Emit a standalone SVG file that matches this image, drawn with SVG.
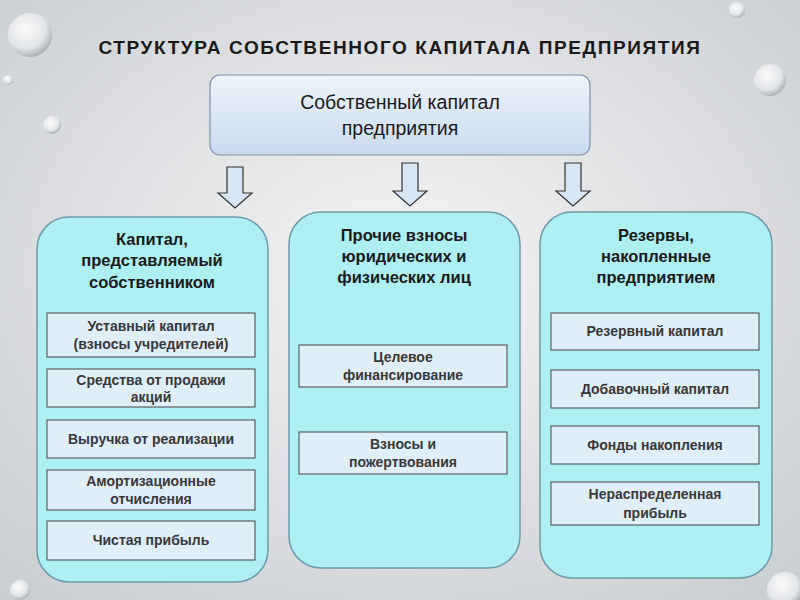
<svg xmlns="http://www.w3.org/2000/svg" width="800" height="600" viewBox="0 0 800 600">
<defs>
<radialGradient id="bg" cx="50%" cy="45%" r="75%"><stop offset="0" stop-color="#f4f5f6"/><stop offset="1" stop-color="#c9ccd0"/></radialGradient>
<linearGradient id="top" x1="0" y1="0" x2="0" y2="1"><stop offset="0" stop-color="#eef4fb"/><stop offset="1" stop-color="#c9daee"/></linearGradient>
<radialGradient id="drop" cx="40%" cy="35%" r="65%"><stop offset="0" stop-color="#ffffff"/><stop offset="0.7" stop-color="#e4e7ea"/><stop offset="1" stop-color="#aab0b6"/></radialGradient>
<style>
.t{font-family:"Liberation Sans",Arial,sans-serif;fill:#1a1a1a;text-anchor:middle}
.h{font-size:16.5px;font-weight:bold}
.i{font-size:14px;font-weight:bold;fill:#383838}
.panel{fill:#aef0f2;stroke:#6f9aa8;stroke-width:1.5}
.box{fill:#e0eef8;stroke:#444;stroke-width:1}
.arr{fill:#d7e6f4;stroke:#333;stroke-width:1.2}
</style>
</defs>
<rect width="800" height="600" fill="url(#bg)"/>
<g opacity="0.9">
<circle cx="30" cy="35" r="22" fill="url(#drop)"/>
<circle cx="52" cy="125" r="9" fill="url(#drop)"/>
<circle cx="8" cy="80" r="5" fill="url(#drop)"/>
<circle cx="770" cy="80" r="16" fill="url(#drop)"/>
<circle cx="737" cy="10" r="8" fill="url(#drop)"/>
<circle cx="785" cy="590" r="18" fill="url(#drop)"/>
<circle cx="20" cy="590" r="10" fill="url(#drop)"/>
</g>
<text class="t" x="400" y="54" style="font-size:19px;font-weight:bold;letter-spacing:1.6px">СТРУКТУРА СОБСТВЕННОГО КАПИТАЛА ПРЕДПРИЯТИЯ</text>
<g id="root">
<rect x="210" y="75" width="380" height="80" rx="10" fill="url(#top)" stroke="#7f93a8" stroke-width="1.2"/>
<text class="t" x="400" y="109" style="font-size:19.5px">Собственный капитал</text>
<text class="t" x="400" y="135" style="font-size:19.5px">предприятия</text>
</g>
<g id="connectors">
<path class="arr" d="M227 167h16v26h9l-17 15l-17-15h9z"/>
<path class="arr" d="M402 163h16v28h9l-17 15l-17-15h9z"/>
<path class="arr" d="M565 163h16v28h9l-17 15l-17-15h9z"/>
</g>
<g id="left">
<rect class="panel" x="37" y="217" width="231" height="365" rx="32"/>
<text class="t h" x="152" y="245">Капитал,</text>
<text class="t h" x="152" y="266">представляемый</text>
<text class="t h" x="152" y="288">собственником</text>
<rect class="box" x="47" y="313" width="208" height="44"/>
<text class="t i" x="151" y="331">Уставный капитал</text>
<text class="t i" x="151" y="349">(взносы учредителей)</text>
<rect class="box" x="47" y="369" width="208" height="38"/>
<text class="t i" x="151" y="385">Средства от продажи</text>
<text class="t i" x="151" y="402">акций</text>
<rect class="box" x="47" y="420" width="208" height="38"/>
<text class="t i" x="151" y="444">Выручка от реализации</text>
<rect class="box" x="47" y="470" width="208" height="40"/>
<text class="t i" x="151" y="486">Амортизационные</text>
<text class="t i" x="151" y="504">отчисления</text>
<rect class="box" x="47" y="521" width="208" height="39"/>
<text class="t i" x="151" y="545">Чистая прибыль</text>
</g>
<g id="middle">
<rect class="panel" x="289" y="212" width="231" height="356" rx="32"/>
<text class="t h" x="404" y="241">Прочие взносы</text>
<text class="t h" x="404" y="262">юридических и</text>
<text class="t h" x="404" y="283">физических лиц</text>
<rect class="box" x="299" y="345" width="208" height="42"/>
<text class="t i" x="403" y="362">Целевое</text>
<text class="t i" x="403" y="380">финансирование</text>
<rect class="box" x="299" y="432" width="208" height="42"/>
<text class="t i" x="403" y="449">Взносы и</text>
<text class="t i" x="403" y="467">пожертвования</text>
</g>
<g id="right">
<rect class="panel" x="540" y="212" width="232" height="366" rx="32"/>
<text class="t h" x="656" y="241">Резервы,</text>
<text class="t h" x="656" y="262">накопленные</text>
<text class="t h" x="656" y="283">предприятием</text>
<rect class="box" x="551" y="313" width="208" height="37"/>
<text class="t i" x="655" y="336">Резервный капитал</text>
<rect class="box" x="551" y="370" width="208" height="38"/>
<text class="t i" x="655" y="394">Добавочный капитал</text>
<rect class="box" x="551" y="426" width="208" height="38"/>
<text class="t i" x="655" y="450">Фонды накопления</text>
<rect class="box" x="551" y="482" width="208" height="43"/>
<text class="t i" x="655" y="499">Нераспределенная</text>
<text class="t i" x="655" y="518">прибыль</text>
</g>
</svg>
